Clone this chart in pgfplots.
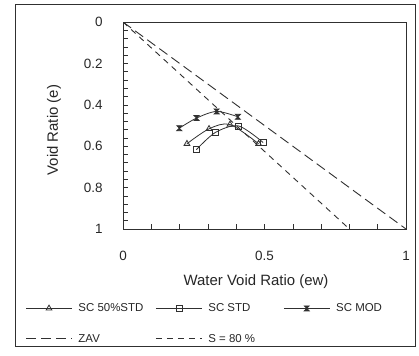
\documentclass[border=0pt]{standalone}
\usepackage{fontspec}
\setmainfont{Liberation Sans}
\usepackage{pgfplots}
\pgfplotsset{compat=1.18}
\pgfdeclareplotmark{hourglass}{%
 \pgfpathmoveto{\pgfqpoint{-\pgfplotmarksize}{\pgfplotmarksize}}%
 \pgfpathlineto{\pgfqpoint{\pgfplotmarksize}{-\pgfplotmarksize}}%
 \pgfpathlineto{\pgfqpoint{-\pgfplotmarksize}{-\pgfplotmarksize}}%
 \pgfpathlineto{\pgfqpoint{\pgfplotmarksize}{\pgfplotmarksize}}%
 \pgfpathclose
 \pgfusepathqfillstroke}
\definecolor{ln}{HTML}{303030}
\begin{document}
\begin{tikzpicture}[x=1bp,y=1bp]
\useasboundingbox (0,0) rectangle (419,356);
\draw[ln, line width=0.8bp] (15,10) rectangle (415,352);
\begin{axis}[
 at={(264.5bp,230.5bp)}, anchor=center,
 scale only axis, width=283bp, height=207bp,
 xmin=0, xmax=1, ymin=0, ymax=1, y dir=reverse,
 axis line style={ln, line width=0.8bp},
 xtick={0,0.5,1}, ytick={0,0.2,0.4,0.6,0.8,1},
 minor x tick num=4, minor y tick num=4,
 xtick pos=left, ytick pos=left,
 tick align=inside,
 major tick length=5bp, minor tick length=5bp,
 tick style={ln, line width=0.6bp},
 /pgf/number format/assume math mode=true,
 ticklabel style={font=\fontsize{13.5}{15}\selectfont, text=black!85},
 yticklabel style={xshift=-17bp},
 xticklabel style={yshift=-19bp},
 xlabel={Water Void Ratio (ew)},
 ylabel={Void Ratio (e)},
 label style={font=\fontsize{15}{17}\selectfont, text=black!85},
 xlabel style={at={(axis description cs:0.47,-0.256)}, anchor=center},
 ylabel style={at={(axis description cs:-0.244,0.478)}, anchor=center, rotate=0},
 legend columns=3,
 legend cell align=left,
 legend style={at={(axis description cs:-0.345,-0.35)}, anchor=north west, draw=none, fill=none,
   font=\fontsize{11.5}{13}\selectfont, text=black!85, row sep=17bp, inner sep=0pt,
   nodes={inner sep=2bp},
   /tikz/every odd column/.style={column sep=4bp}},
 legend image code/.code={\draw[mark repeat=2,mark phase=2,#1] plot coordinates {(0bp,0bp)(23bp,0bp)(46bp,0bp)};},
]
\addplot[ln, line width=0.8bp, smooth, mark=triangle, mark size=3.3bp, mark options={fill=white, solid}]
 coordinates {(0.226,0.588) (0.304,0.516) (0.378,0.495) (0.479,0.588)};
\addlegendentry{\makebox[75bp][l]{SC 50\%STD}}
\addplot[ln, line width=0.8bp, smooth, mark=square, mark size=3bp, mark options={fill=white, solid}]
 coordinates {(0.259,0.617) (0.326,0.534) (0.408,0.502) (0.495,0.582)};
\addlegendentry{\makebox[73bp][l]{SC STD}}
\addplot[ln, line width=0.8bp, smooth, mark=hourglass, mark size=2.5bp, mark options={fill=ln, solid}]
 coordinates {(0.199,0.513) (0.260,0.464) (0.331,0.432) (0.406,0.458)};
\addlegendentry{SC MOD}
\addplot[ln, line width=0.9bp, dash pattern=on 10bp off 5bp]
 coordinates {(0,0) (1,1)};
\addlegendentry{ZAV}
\addplot[ln, line width=0.9bp, dash pattern=on 6bp off 5bp]
 coordinates {(0,0) (0.8,1)};
\addlegendentry{S = 80 \%}
\end{axis}
\end{tikzpicture}
\end{document}
